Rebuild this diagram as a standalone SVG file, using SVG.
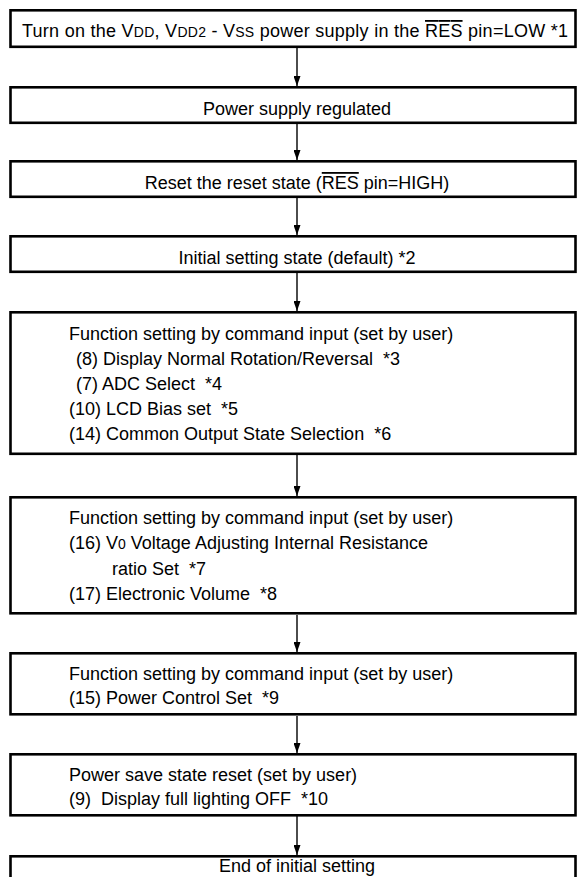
<svg xmlns="http://www.w3.org/2000/svg" width="582" height="877" viewBox="0 0 582 877">
<style>
.box{fill:#fff;stroke:#000;stroke-width:2.6}
.t{font-family:"Liberation Sans",Arial,sans-serif;font-size:18px;fill:#000}
.c{text-anchor:middle}
.s{font-size:14px}
.ol{text-decoration:overline}
.conn line{stroke:#000;stroke-width:1.4}
</style>
<defs>
<marker id="ah" markerUnits="userSpaceOnUse" markerWidth="7" markerHeight="10" refX="3.5" refY="10" orient="0" viewBox="0 0 7 10">
<path d="M0,0 L7,0 L3.5,10 z" fill="#000"/>
</marker>
</defs>
<rect width="582" height="877" fill="#fff"/>
<g class="conn">
<line x1="297" y1="48" x2="297" y2="86" marker-end="url(#ah)"/>
<line x1="297" y1="124" x2="297" y2="160" marker-end="url(#ah)"/>
<line x1="297" y1="198" x2="297" y2="235" marker-end="url(#ah)"/>
<line x1="297" y1="273" x2="297" y2="311" marker-end="url(#ah)"/>
<line x1="297" y1="455" x2="297" y2="496" marker-end="url(#ah)"/>
<line x1="297" y1="615" x2="297" y2="652" marker-end="url(#ah)"/>
<line x1="297" y1="716" x2="297" y2="753" marker-end="url(#ah)"/>
<line x1="297" y1="816" x2="297" y2="855" marker-end="url(#ah)"/>
</g>
<g id="n1">
<rect class="box" x="10.5" y="10.3" width="565" height="36.5"/>
<text class="t" x="22" y="37" textLength="546" lengthAdjust="spacing">Turn on the V<tspan class="s">DD</tspan>, V<tspan class="s">DD2</tspan> - V<tspan class="s">SS</tspan> power supply in the <tspan class="ol">RES</tspan> pin=LOW *1</text>
</g>
<g id="n2">
<rect class="box" x="10.5" y="87.3" width="565" height="35.5"/>
<text class="t c" x="297" y="115">Power supply regulated</text>
</g>
<g id="n3">
<rect class="box" x="10.5" y="161.3" width="565" height="35.5"/>
<text class="t c" x="297" y="189">Reset the reset state (<tspan class="ol">RES</tspan> pin=HIGH)</text>
</g>
<g id="n4">
<rect class="box" x="10.5" y="236.3" width="565" height="35.5"/>
<text class="t c" x="297" y="264">Initial setting state (default) *2</text>
</g>
<g id="n5">
<rect class="box" x="10.5" y="312.3" width="565" height="141.5"/>
<text class="t" x="69" y="339.5">Function setting by command input (set by user)</text>
<text class="t" x="76" y="364.5">(8) Display Normal Rotation/Reversal&#160;&#160;*3</text>
<text class="t" x="76" y="389.5">(7) ADC Select&#160;&#160;*4</text>
<text class="t" x="69" y="414.5">(10) LCD Bias set&#160;&#160;*5</text>
<text class="t" x="69" y="440">(14) Common Output State Selection&#160;&#160;*6</text>
</g>
<g id="n6">
<rect class="box" x="10.5" y="497.3" width="565" height="116"/>
<text class="t" x="69" y="524">Function setting by command input (set by user)</text>
<text class="t" x="69" y="549">(16) V<tspan class="s">0</tspan> Voltage Adjusting Internal Resistance</text>
<text class="t" x="112" y="575">ratio Set&#160;&#160;*7</text>
<text class="t" x="69" y="600">(17) Electronic Volume&#160;&#160;*8</text>
</g>
<g id="n7">
<rect class="box" x="10.5" y="653.3" width="565" height="61"/>
<text class="t" x="69" y="680">Function setting by command input (set by user)</text>
<text class="t" x="69" y="704">(15) Power Control Set&#160;&#160;*9</text>
</g>
<g id="n8">
<rect class="box" x="10.5" y="754.3" width="565" height="61"/>
<text class="t" x="69" y="781">Power save state reset (set by user)</text>
<text class="t" x="69" y="805">(9)&#160;&#160;Display full lighting OFF&#160;&#160;*10</text>
</g>
<g id="n9">
<rect class="box" x="10.5" y="856.3" width="565" height="60"/>
<text class="t c" x="297" y="872">End of initial setting</text>
</g>
</svg>
